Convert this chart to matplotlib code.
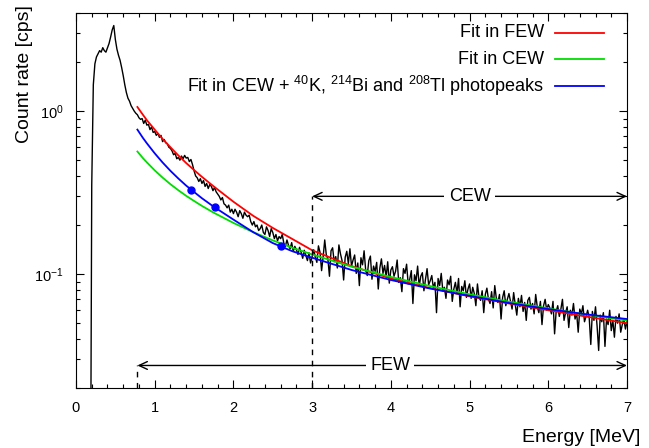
import matplotlib.pyplot as plt
import matplotlib.ticker as ticker
import numpy as np

plt.rcParams['font.family'] = ['Liberation Sans', 'DejaVu Sans']
plt.rcParams['mathtext.fontset'] = 'custom'
plt.rcParams['mathtext.rm'] = 'Liberation Sans'
plt.rcParams['mathtext.it'] = 'Liberation Sans:italic'

# measured spectrum, 20 keV bins (bin centres 0.18 ... 7.00 MeV)
energy = np.round(np.arange(0.18, 7.001, 0.02), 2)

# 0.18 - 0.80 MeV
counts_low = [0.001, 0.35, 1.45, 1.95, 2.15, 2.25, 2.35, 2.3, 2.45, 2.35,
              2.3, 2.45, 2.6, 2.85, 3.15, 3.35, 2.75, 2.4, 2.2, 2.05,
              1.85, 1.65, 1.45, 1.3, 1.2, 1.15, 1.08, 1.04, 1.0, 0.97,
              0.95, 0.91]

# 0.82 - 3.00 MeV
counts_mid = [0.89, 0.90, 0.84, 0.88, 0.82, 0.83, 0.77, 0.80, 0.74, 0.75,
              0.71, 0.73, 0.69, 0.71, 0.65, 0.67, 0.64, 0.63, 0.60, 0.59,
              0.57, 0.54, 0.55, 0.51, 0.52, 0.50, 0.53, 0.51, 0.535, 0.515,
              0.52, 0.49, 0.505, 0.47, 0.43, 0.40, 0.39, 0.37, 0.385, 0.36,
              0.375, 0.345, 0.36, 0.335, 0.355, 0.345, 0.325, 0.34, 0.32, 0.31,
              0.30, 0.285, 0.295, 0.27, 0.265, 0.255, 0.265, 0.24, 0.25, 0.235,
              0.25, 0.24, 0.225, 0.245, 0.235, 0.22, 0.24, 0.23, 0.225, 0.23,
              0.21, 0.2, 0.21, 0.195, 0.2, 0.185, 0.19, 0.2, 0.18, 0.175,
              0.195, 0.185, 0.17, 0.19, 0.18, 0.165, 0.175, 0.16, 0.17, 0.165,
              0.175, 0.155, 0.148, 0.162, 0.15, 0.143, 0.156, 0.138, 0.148, 0.141,
              0.132, 0.146, 0.136, 0.125, 0.14, 0.13, 0.121, 0.135, 0.117, 0.128]

# 3.02 - 7.00 MeV
counts_high = [0.141, 0.127, 0.118, 0.149, 0.136, 0.105, 0.128, 0.162, 0.131, 0.124,
               0.097, 0.139, 0.145, 0.119, 0.128, 0.109, 0.151, 0.133, 0.121, 0.092,
               0.127, 0.138, 0.116, 0.143, 0.112,
               0.122, 0.131, 0.101, 0.117, 0.085, 0.126, 0.114, 0.139, 0.106, 0.098,
               0.121, 0.129, 0.093, 0.112, 0.104, 0.118, 0.081, 0.109, 0.124, 0.101,
               0.113, 0.096, 0.119, 0.088, 0.106,
               0.111, 0.097, 0.104, 0.122, 0.089, 0.095, 0.078, 0.108, 0.101, 0.115,
               0.087, 0.093, 0.105, 0.066, 0.099, 0.091, 0.112, 0.084, 0.097, 0.102,
               0.079, 0.093, 0.108, 0.086, 0.091,
               0.098, 0.082, 0.089, 0.058, 0.094, 0.085, 0.101, 0.079, 0.083, 0.071,
               0.092, 0.086, 0.097, 0.068, 0.081, 0.089, 0.076, 0.094, 0.063, 0.084,
               0.079, 0.091, 0.072, 0.081, 0.087,
               0.071, 0.083, 0.076, 0.064, 0.087, 0.072, 0.069, 0.079, 0.058, 0.075,
               0.082, 0.070, 0.066, 0.078, 0.062, 0.085, 0.071, 0.067, 0.075, 0.053,
               0.072, 0.079, 0.064, 0.070, 0.076,
               0.068, 0.061, 0.077, 0.065, 0.056, 0.071, 0.063, 0.074, 0.059, 0.067,
               0.052, 0.069, 0.072, 0.061, 0.066, 0.057, 0.075, 0.063, 0.058, 0.068,
               0.049, 0.064, 0.070, 0.060, 0.065,
               0.062, 0.057, 0.068, 0.043, 0.059, 0.064, 0.055, 0.061, 0.070, 0.052,
               0.058, 0.063, 0.047, 0.060, 0.056, 0.066, 0.053, 0.058, 0.044, 0.061,
               0.057, 0.064, 0.051, 0.055, 0.060,
               0.054, 0.037, 0.059, 0.052, 0.063, 0.048, 0.034, 0.056, 0.051, 0.058,
               0.036, 0.053, 0.049, 0.060, 0.045, 0.052, 0.041, 0.055, 0.050, 0.057,
               0.044, 0.049, 0.053, 0.046, 0.051]

# fitted continuum
fit_energy = [0.78, 0.85, 0.9, 1.0, 1.1, 1.2, 1.3, 1.4, 1.5, 1.6, 1.75,
              2.0, 2.25, 2.5, 2.75, 3.0, 3.5, 4.0, 4.5, 5.0, 5.5, 6.0, 6.5, 7.0]
fit_few = [1.06, 0.95, 0.88, 0.77, 0.675, 0.6, 0.535, 0.48, 0.435, 0.395, 0.345,
           0.278, 0.228, 0.192, 0.164, 0.14, 0.112, 0.094, 0.082, 0.073, 0.066, 0.06, 0.0547, 0.05]
fit_cew = [0.565, 0.515, 0.485, 0.433, 0.391, 0.356, 0.327, 0.302, 0.281, 0.262, 0.238,
           0.206, 0.181, 0.161, 0.145, 0.132, 0.111, 0.096, 0.0844, 0.0752, 0.0677, 0.0616, 0.0563, 0.0519]
fit_cew_peaks = [0.77, 0.685, 0.635, 0.551, 0.484, 0.43, 0.386, 0.349, 0.319, 0.292, 0.259,
                 0.216, 0.181, 0.155, 0.138, 0.126, 0.106, 0.092, 0.0815, 0.0735, 0.0665, 0.061, 0.0565, 0.053]

# photopeak points (40K, 214Bi, 208Tl)
peak_energy = [1.46, 1.76, 2.61]
peak_rate = [0.33, 0.257, 0.148]

few_window = [0.78, 7.0]
cew_window = [3.0, 7.0]

labels = ['Fit in FEW', 'Fit in CEW',
          'Fit in CEW + $^{40}$K, $^{214}$Bi and $^{208}$Tl photopeaks']
colors = ['#ff0000', '#00dd00', '#0000ff']

counts = np.concatenate([counts_low, counts_mid, counts_high])

fig, ax = plt.subplots(figsize=(6.49, 4.48), dpi=100)
fig.subplots_adjust(left=0.1171, right=0.9661, top=0.971, bottom=0.1339)

ax.plot(energy, counts, color='black', lw=1.0)
ax.plot(fit_energy, fit_few, color=colors[0], lw=1.3)
ax.plot(fit_energy, fit_cew, color=colors[1], lw=1.3)
ax.plot(fit_energy, fit_cew_peaks, color=colors[2], lw=1.3)
ax.plot(peak_energy, peak_rate, 'o', color=colors[2], ms=5)

ax.set_yscale('log')
ax.set_xlim(0, 7)
ax.set_ylim(0.02, 4)

# energy windows
arrow = dict(arrowstyle='<->,head_length=0.6,head_width=0.28', color='black',
             lw=1.0, shrinkA=0, shrinkB=0, mutation_scale=10)
y_few = 0.0275
y_cew = 0.30
ax.annotate('', xy=(few_window[0], y_few), xytext=(few_window[1], y_few), arrowprops=arrow)
ax.annotate('', xy=(cew_window[0], y_cew), xytext=(cew_window[1], y_cew), arrowprops=arrow)
box = dict(facecolor='white', edgecolor='none', pad=3)
ax.text(np.mean(few_window) + 0.1, y_few, 'FEW', ha='center', va='center', fontsize=13, bbox=box)
ax.text(np.mean(cew_window), y_cew, 'CEW', ha='center', va='center', fontsize=13, bbox=box)
ax.plot([few_window[0]] * 2, [0.02, y_few], color='black', lw=1.0, dashes=(4, 4))
ax.plot([cew_window[0]] * 2, [0.02, y_cew], color='black', lw=1.0, dashes=(4, 4))

# legend, gnuplot style (text right aligned, sample on the right)
for i in range(3):
    y = 0.947 - i * 0.071
    ax.text(0.849, y, labels[i], transform=ax.transAxes, ha='right', va='center', fontsize=13)
    ax.plot([0.869, 0.958], [y, y], transform=ax.transAxes, color=colors[i], lw=1.3)

ax.xaxis.set_major_locator(ticker.MultipleLocator(1))
ax.xaxis.set_minor_locator(ticker.MultipleLocator(0.2))
ax.yaxis.set_major_locator(ticker.LogLocator(base=10))
ax.yaxis.set_minor_locator(ticker.LogLocator(base=10, subs=np.arange(2, 10)))
ax.yaxis.set_minor_formatter(ticker.NullFormatter())
ax.tick_params(which='both', direction='in', top=True, right=True, labelsize=10.5, pad=9)
ax.tick_params(which='major', length=6, width=0.8)
ax.tick_params(which='minor', length=3, width=0.8)
for s in ax.spines.values():
    s.set_linewidth(0.8)

ax.set_xlabel('Energy [MeV]', fontsize=14, ha='right', va='center')
ax.xaxis.set_label_coords(1.024, -0.131)
ax.set_ylabel('Count rate [cps]', fontsize=14, va='center')
ax.yaxis.set_label_coords(-0.094, 0.837)

plt.savefig('out.png', dpi=100)
